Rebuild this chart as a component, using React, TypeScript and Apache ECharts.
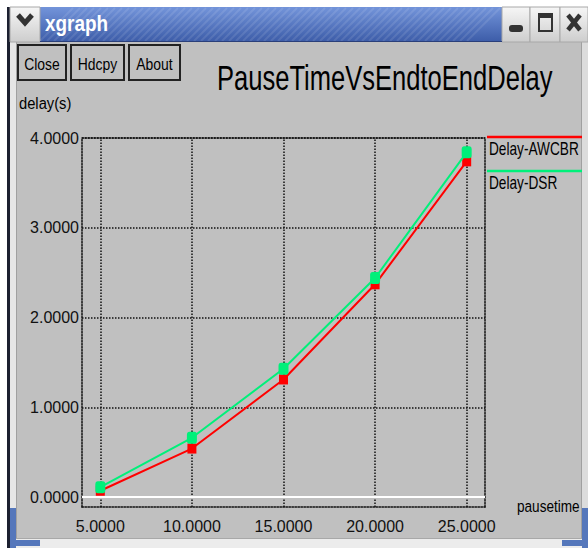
import React, { useEffect, useRef } from "react";
import * as echarts from "echarts";

const pauseTimes = [5, 10, 15, 20, 25];
const delayAWCBR = [0.07, 0.54, 1.31, 2.37, 3.74];
const delayDSR = [0.11, 0.66, 1.43, 2.44, 3.84];
const xTickValues = [5, 10, 15, 20, 25];
const yTickValues = [0, 1, 2, 3, 4];
const seriesNames = ["Delay-AWCBR", "Delay-DSR"];
const seriesColors = ["#ff0000", "#00f07a"];
const chartTitle = "PauseTimeVsEndtoEndDelay";
const buttonLabels = ["Close", "Hdcpy", "About"];

const FONT = "'Liberation Sans', Arial, sans-serif";

function txt(text: string, x: number, y: number, size: number, scaleX: number, opts: any = {}) {
  return {
    type: "text",
    x,
    y,
    scaleX,
    z: 10,
    style: {
      text,
      fontSize: size,
      fontFamily: FONT,
      fontWeight: opts.weight || "normal",
      fill: opts.fill || "#000",
      textAlign: opts.align || "left",
      align: opts.align || "left",
      textVerticalAlign: "middle",
      verticalAlign: "middle",
    },
  };
}

function grad(c1: string, c2: string) {
  return {
    type: "linear",
    x: 0,
    y: 0,
    x2: 0,
    y2: 1,
    colorStops: [
      { offset: 0, color: c1 },
      { offset: 1, color: c2 },
    ],
  };
}

export default function App() {
  const ref = useRef<HTMLDivElement>(null);

  useEffect(() => {
    if (!ref.current) return;
    const chart = echarts.init(ref.current, null, { renderer: "svg" });

    const dotted = { color: "#111", width: 1.5, type: [1.5, 1.5] as any };

    const graphics: any[] = [];
    // page + window body
    graphics.push({ type: "rect", shape: { x: 0, y: 0, width: 588, height: 548 }, style: { fill: "#ffffff" }, z: 0 });
    graphics.push({ type: "rect", shape: { x: 10, y: 41, width: 578, height: 507 }, style: { fill: "#c0c0c0" }, z: 0 });
    graphics.push({ type: "rect", shape: { x: 7, y: 7, width: 3, height: 541 }, style: { fill: "#1c2030" }, z: 0 });
    graphics.push({ type: "rect", shape: { x: 10, y: 42, width: 6, height: 498 }, style: { fill: "#e6e6e6" }, z: 0 });
    graphics.push({ type: "rect", shape: { x: 16, y: 42, width: 1, height: 498 }, style: { fill: "#a0a0a0" }, z: 0 });
    graphics.push({ type: "rect", shape: { x: 581, y: 42, width: 7, height: 498 }, style: { fill: "#dcdcdc" }, z: 0 });
    graphics.push({ type: "rect", shape: { x: 581, y: 42, width: 1, height: 498 }, style: { fill: "#a0a0a0" }, z: 0 });
    graphics.push({ type: "rect", shape: { x: 10, y: 539, width: 578, height: 9 }, style: { fill: "#ececec" }, z: 0 });
    graphics.push({ type: "rect", shape: { x: 10, y: 538, width: 578, height: 1 }, style: { fill: "#a8a8a8" }, z: 0 });
    // blue resize corners
    const blue = "#5577bb";
    graphics.push({ type: "rect", shape: { x: 10, y: 508, width: 6, height: 40 }, style: { fill: blue }, z: 1 });
    graphics.push({ type: "rect", shape: { x: 10, y: 540, width: 30, height: 6 }, style: { fill: blue }, z: 1 });
    graphics.push({ type: "rect", shape: { x: 582, y: 508, width: 6, height: 40 }, style: { fill: blue }, z: 1 });
    graphics.push({ type: "rect", shape: { x: 562, y: 540, width: 26, height: 6 }, style: { fill: blue }, z: 1 });

    // title bar
    graphics.push({ type: "rect", shape: { x: 40, y: 7, width: 462, height: 35 }, style: { fill: grad("#7394da", "#3c5ca8") }, z: 1 });
    for (let sx = 40; sx < 470; sx += 7) {
      graphics.push({
        type: "line",
        shape: { x1: sx, y1: 41, x2: sx + 33, y2: 8 },
        style: { stroke: "rgba(255,255,255,0.10)", lineWidth: 2 },
        z: 2,
      });
    }
    graphics.push({ type: "rect", shape: { x: 40, y: 41, width: 462, height: 1 }, style: { fill: "#2a3f7a" }, z: 2 });
    graphics.push(txt("xgraph", 45, 23, 22, 0.86, { fill: "#ffffff", weight: "bold" }));

    // window buttons
    const btnBg = grad("#f6f6f6", "#cdcdcd");
    graphics.push({ type: "rect", shape: { x: 10, y: 7, width: 30, height: 35 }, style: { fill: btnBg, stroke: "#a8a8a8", lineWidth: 1 }, z: 1 });
    graphics.push({ type: "polyline", shape: { points: [[18, 15], [25, 23], [32, 15]] }, style: { stroke: "#333", lineWidth: 5, fill: "none" }, z: 3 });
    graphics.push({ type: "rect", shape: { x: 502, y: 7, width: 28, height: 35 }, style: { fill: btnBg, stroke: "#a8a8a8", lineWidth: 1 }, z: 1 });
    graphics.push({ type: "rect", shape: { x: 530, y: 7, width: 30, height: 35 }, style: { fill: btnBg, stroke: "#a8a8a8", lineWidth: 1 }, z: 1 });
    graphics.push({ type: "rect", shape: { x: 560, y: 7, width: 28, height: 35 }, style: { fill: btnBg, stroke: "#a8a8a8", lineWidth: 1 }, z: 1 });
    graphics.push({ type: "rect", shape: { x: 509, y: 25, width: 14, height: 7, r: 3 }, style: { fill: "#333" }, z: 3 });
    graphics.push({ type: "rect", shape: { x: 539, y: 14, width: 13, height: 17 }, style: { fill: "none", stroke: "#333", lineWidth: 2 }, z: 3 });
    graphics.push({ type: "rect", shape: { x: 538, y: 13, width: 15, height: 5 }, style: { fill: "#333" }, z: 3 });
    graphics.push({ type: "line", shape: { x1: 568, y1: 15, x2: 580, y2: 30 }, style: { stroke: "#333", lineWidth: 4.5 }, z: 3 });
    graphics.push({ type: "line", shape: { x1: 580, y1: 15, x2: 568, y2: 30 }, style: { stroke: "#333", lineWidth: 4.5 }, z: 3 });

    // xgraph buttons
    const btnBoxes = [
      [18, 48],
      [71, 53],
      [129, 51],
    ];
    buttonLabels.forEach((label, i) => {
      const [bx, bw] = btnBoxes[i];
      graphics.push({ type: "rect", shape: { x: bx, y: 45, width: bw, height: 35 }, style: { fill: "none", stroke: "#222", lineWidth: 2 }, z: 3 });
      const t = txt(label, bx + bw / 2, 64, 17, 0.82, { align: "center" });
      graphics.push(t);
    });

    // title and axis names
    graphics.push(txt(chartTitle, 217, 78, 36, 0.71));
    graphics.push(txt("delay(s)", 19, 103, 16, 0.92));
    graphics.push(txt("pausetime", 517, 506, 17, 0.8));

    // legend
    const legendYs = [137, 171];
    seriesNames.forEach((name, i) => {
      graphics.push({
        type: "line",
        shape: { x1: 487, y1: legendYs[i], x2: 582, y2: legendYs[i] },
        style: { stroke: seriesColors[i], lineWidth: 2.5 },
        z: 5,
      });
      graphics.push(txt(name, 489, legendYs[i] + 12, 18, 0.76));
    });

    const yMin = -0.111;

    const axisCommon = {
      type: "value",
      axisTick: { show: false },
      axisLabel: { show: false },
      splitLine: { show: false },
      axisLine: { show: true, onZero: false, lineStyle: dotted },
    };

    const labelFont = { fontFamily: FONT, fontSize: 16, color: "#111" };

    const markData: any[] = [
      ...xTickValues.map((v) => ({
        xAxis: v,
        label: { formatter: v.toFixed(4), distance: 11 },
      })),
      ...yTickValues
        .filter((v) => v !== 0)
        .map((v) => ({
          yAxis: v,
          label: { formatter: v.toFixed(4), distance: 3 },
        })),
      {
        yAxis: 0,
        lineStyle: { color: "#ffffff", type: "solid", width: 2 },
        label: { formatter: (0).toFixed(4), distance: 3 },
      },
    ];

    chart.setOption({
      animation: false,
      backgroundColor: "transparent",
      graphic: { elements: graphics },
      grid: { left: 82, top: 138, right: 103, bottom: 41, containLabel: false },
      xAxis: [
        { ...axisCommon, min: 4, max: 26, position: "bottom" },
        { ...axisCommon, min: 4, max: 26, position: "top" },
      ],
      yAxis: [
        { ...axisCommon, min: yMin, max: 4, position: "left" },
        { ...axisCommon, min: yMin, max: 4, position: "right" },
      ],
      series: [
        {
          name: seriesNames[0],
          type: "line",
          xAxisIndex: 0,
          yAxisIndex: 0,
          data: pauseTimes.map((x, i) => [x, delayAWCBR[i]]),
          lineStyle: { color: seriesColors[0], width: 2 },
          itemStyle: { color: seriesColors[0] },
          symbol: "rect",
          symbolSize: [9, 10],
          showSymbol: true,
          z: 3,
          markLine: {
            silent: true,
            z: 1,
            symbol: ["none", "none"],
            animation: false,
            lineStyle: dotted,
            label: { show: true, position: "start", ...labelFont },
            emphasis: { disabled: true },
            data: markData,
          },
        },
        {
          name: seriesNames[1],
          type: "line",
          xAxisIndex: 0,
          yAxisIndex: 0,
          data: pauseTimes.map((x, i) => [x, delayDSR[i]]),
          lineStyle: { color: seriesColors[1], width: 2 },
          itemStyle: { color: seriesColors[1] },
          symbol: "roundRect",
          symbolSize: [10, 12],
          showSymbol: true,
          z: 4,
        },
      ],
    });

    return () => chart.dispose();
  }, []);

  return (
    <div
      ref={ref}
      style={{ position: "absolute", left: 0, top: 0, width: 588, height: 548 }}
    />
  );
}
